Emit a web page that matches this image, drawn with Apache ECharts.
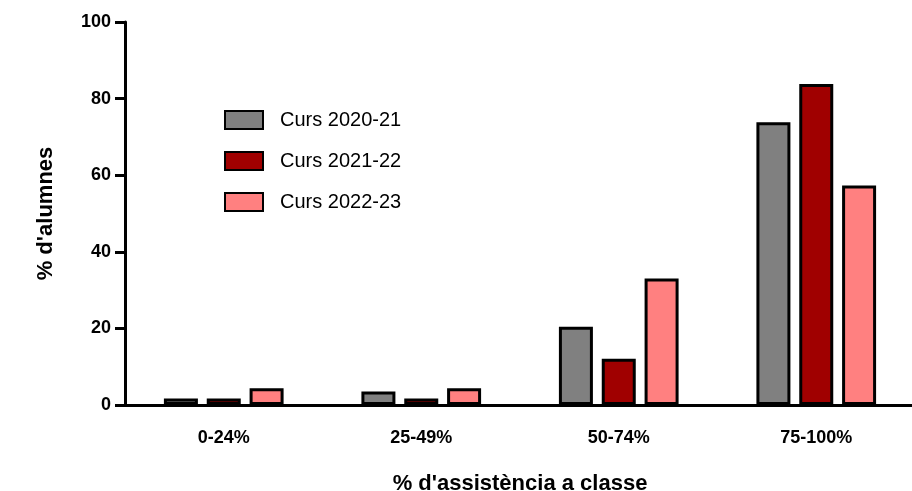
<!DOCTYPE html>
<html>
<head>
<meta charset="utf-8">
<script src="https://cdn.jsdelivr.net/npm/echarts@6/dist/echarts.min.js"></script>
<style>
  html, body { margin: 0; padding: 0; background: #fff; }
  #chart { width: 912px; height: 491px; }
</style>
</head>
<body>
<div id="chart"></div>
<script>
  // categories and values
  const categories = ['0-24%', '25-49%', '50-74%', '75-100%'];
  const seriesNames = ['Curs 2020-21', 'Curs 2021-22', 'Curs 2022-23'];
  const curs2020 = [1.7, 3.5, 20.4, 73.8];
  const curs2021 = [1.7, 1.7, 12.1, 83.8];
  const curs2022 = [4.4, 4.4, 33.0, 57.3];
  const yTicks = [0, 20, 40, 60, 80, 100];

  const colors = ['#808080', '#a00000', '#ff8080'];
  const font = 'Liberation Sans, Arial, sans-serif';

  const chart = echarts.init(document.getElementById('chart'));

  const makeSeries = (name, data, i) => ({
    name: name,
    type: 'bar',
    data: data,
    barWidth: 34,
    barGap: '26%',
    itemStyle: {
      color: colors[i],
      borderColor: '#000',
      borderWidth: 3
    }
  });

  chart.setOption({
    animation: false,
    textStyle: { fontFamily: font },
    grid: {
      left: 125, top: 22, width: 790, bottom: 86,
      containLabel: false,
      outerBoundsMode: 'none'
    },
    legend: {
      left: 219,
      top: 105,
      orient: 'vertical',
      itemWidth: 38,
      itemHeight: 18,
      itemGap: 21,
      icon: 'rect',
      data: seriesNames,
      textStyle: { fontSize: 20, color: '#000', fontFamily: font, padding: [0, 0, 0, 12] }
    },
    xAxis: {
      type: 'category',
      data: categories,
      name: "% d'assistència a classe",
      nameLocation: 'middle',
      nameGap: 68,
      nameTextStyle: { fontSize: 22, fontWeight: 'bold', color: '#000', fontFamily: font },
      axisLine: { lineStyle: { color: '#000', width: 3 } },
      axisTick: { alignWithLabel: true, length: 10, lineStyle: { color: '#000', width: 3 } },
      axisLabel: { fontSize: 18, fontWeight: 'bold', color: '#000', margin: 24, fontFamily: font }
    },
    yAxis: {
      type: 'value',
      min: yTicks[0],
      max: yTicks[yTicks.length - 1],
      interval: 20,
      name: "% d'alumnes",
      nameLocation: 'middle',
      nameGap: 68,
      nameTextStyle: { fontSize: 22, fontWeight: 'bold', color: '#000', fontFamily: font },
      axisLine: { show: true, lineStyle: { color: '#000', width: 3 } },
      axisTick: { show: true, length: 10, lineStyle: { color: '#000', width: 3 } },
      axisLabel: { fontSize: 18, fontWeight: 'bold', color: '#000', margin: 14, fontFamily: font },
      splitLine: { show: false }
    },
    series: [
      makeSeries(seriesNames[0], curs2020, 0),
      makeSeries(seriesNames[1], curs2021, 1),
      makeSeries(seriesNames[2], curs2022, 2)
    ]
  });
</script>
</body>
</html>
